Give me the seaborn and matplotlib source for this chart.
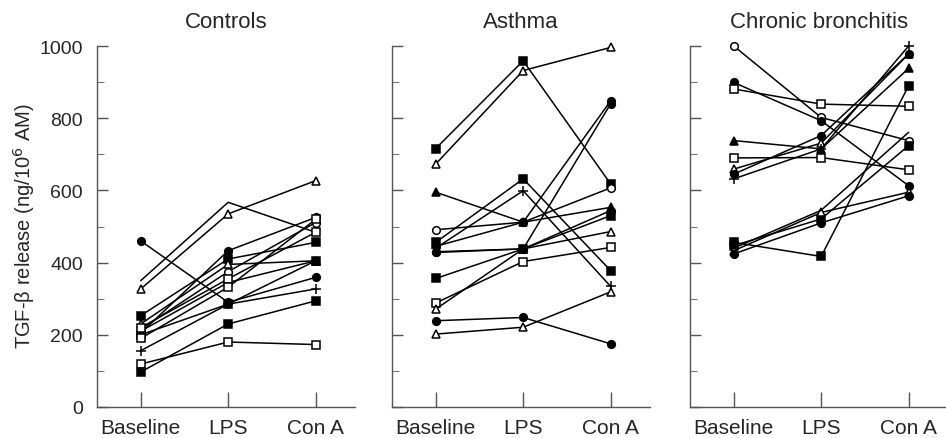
import matplotlib
matplotlib.use("Agg")
import matplotlib.pyplot as plt
import seaborn as sns
import pandas as pd
from matplotlib.ticker import MultipleLocator

# ---------------- data ----------------
conditions = ["Baseline", "LPS", "Con A"]
panel_titles = ["Controls", "Asthma", "Chronic bronchitis"]

controls_baseline = [460, 350, 327, 253, 230, 215, 205, 210, 200, 220, 156, 119, 97, 190]
controls_lps      = [290, 567, 535, 410, 395, 375, 433, 345, 285, 355, 285, 180, 230, 332]
controls_cona     = [359, 484, 627, 456, 405, 511, 525, 405, 405, 484, 327, 173, 294, 520]
controls_markers  = ["fc", "none", "ot", "fs", "ot", "oc", "fc", "ft", "fs", "os", "+", "os", "fs", "os"]

asthma_baseline = [716, 673, 595, 491, 456, 440, 445, 430, 356, 288, 271, 239, 202, 428]
asthma_lps      = [959, 932, 512, 512, 632, 599, 512, 438, 438, 403, 438, 248, 221, 438]
asthma_cona     = [618, 996, 553, 607, 378, 334, 848, 840, 530, 442, 486, 175, 319, 544]
asthma_markers  = ["fs", "ot", "ft", "oc", "fs", "+", "fc", "fc", "fs", "os", "ot", "fc", "ot", "fc"]

chronic_baseline = [1000, 899, 881, 738, 690, 659, 645, 632, 456, 447, 433, 424, 440]
chronic_lps      = [802, 793, 839, 715, 691, 731, 752, 715, 417, 521, 539, 510, 545]
chronic_cona     = [738, 613, 833, 938, 657, 978, 978, 1000, 890, 724, 595, 585, 761]
chronic_markers  = ["oc", "fc", "os", "ft", "os", "ot", "fc", "+", "fs", "fs", "ot", "fc", "none"]

panels = [
    (controls_baseline, controls_lps, controls_cona, controls_markers),
    (asthma_baseline, asthma_lps, asthma_cona, asthma_markers),
    (chronic_baseline, chronic_lps, chronic_cona, chronic_markers),
]

# ---------------- style ----------------
sns.set_style("ticks")
plt.rcParams["font.family"] = ["Liberation Sans", "DejaVu Sans"]

marker_styles = {
    "fc": dict(marker="o", mfc="black"),
    "oc": dict(marker="o", mfc="white"),
    "fs": dict(marker="s", mfc="black"),
    "os": dict(marker="s", mfc="white"),
    "ft": dict(marker="^", mfc="black"),
    "ot": dict(marker="^", mfc="white"),
    "+":  dict(marker="+", mfc="black"),
    "none": dict(marker=None, mfc="black"),
}

W, H = 946, 439
fig = plt.figure(figsize=(W / 100, H / 100), dpi=100)
lefts = [97, 392, 690]
width_px = 258
bottom_px, top_px = 408, 47

for i, (left, (b, l, c, mk)) in enumerate(zip(lefts, panels)):
    ax = fig.add_axes([left / W, (H - bottom_px) / H, width_px / W, (bottom_px - top_px) / H])
    for j in range(len(b)):
        df = pd.DataFrame({"x": [0, 1, 2], "y": [b[j], l[j], c[j]]})
        st = marker_styles[mk[j]]
        sns.lineplot(data=df, x="x", y="y", ax=ax, color="black", linewidth=1.1,
                     marker=st["marker"], markerfacecolor=st["mfc"], markeredgecolor="black",
                     markersize=5.5 if mk[j] != "+" else 7, markeredgewidth=1.1,
                     clip_on=False, zorder=3)
    ax.set_xlim(-0.5, 2.45)
    ax.set_ylim(0, 1000)
    ax.set_xticks([0, 1, 2])
    ax.set_xticklabels(conditions, fontsize=15)
    ax.yaxis.set_major_locator(MultipleLocator(200))
    ax.yaxis.set_minor_locator(MultipleLocator(100))
    ax.tick_params(axis="y", which="major", direction="in", length=8, width=1, color="#555555")
    ax.tick_params(axis="y", which="minor", direction="in", length=5, width=0.8, color="#777777")
    ax.tick_params(axis="x", which="major", direction="in", length=11, width=1, color="#555555", pad=8)
    ax.set_xlabel("")
    ax.set_ylabel("")
    ax.set_title(panel_titles[i], fontsize=16, pad=14)
    for s in ["top", "right"]:
        ax.spines[s].set_visible(False)
    for s in ["left", "bottom"]:
        ax.spines[s].set_color("#555555")
        ax.spines[s].set_linewidth(1.0)
    if i == 0:
        ax.tick_params(axis="y", labelsize=14, pad=10)
        ax.set_ylabel("TGF-β release (ng/10$^6$ AM)", fontsize=14.5)
        ax.yaxis.set_label_coords(-0.233, 0.505)
    else:
        ax.tick_params(axis="y", labelleft=False)

fig.savefig("out.png", dpi=100)
